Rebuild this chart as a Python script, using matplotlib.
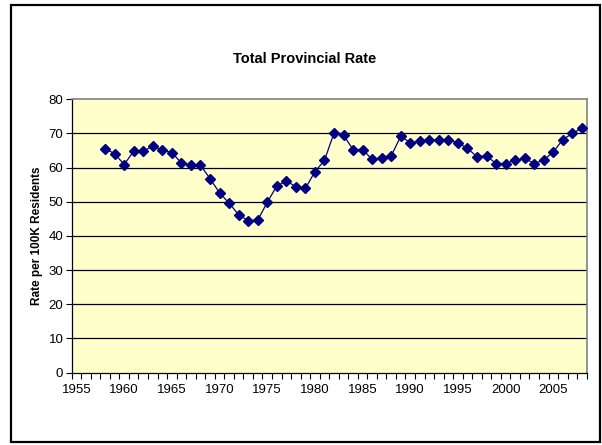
import numpy as np
import matplotlib
matplotlib.use("Agg")
import matplotlib.pyplot as plt
from matplotlib.patches import Rectangle

plt.rcParams['font.family'] = ['Liberation Sans', 'DejaVu Sans']

# data
years = list(range(1958, 2009))
rate = [65.5, 64.1, 60.9, 64.8, 64.8, 66.3, 65.2, 64.4, 61.4, 60.7,
        60.7, 56.8, 52.6, 49.6, 46.2, 44.5, 44.6, 49.8, 54.6, 56.1,
        54.4, 53.9, 58.8, 62.1, 70.1, 69.5, 65.3, 65.3, 62.4, 62.9,
        63.4, 69.2, 67.3, 67.7, 68.2, 68.0, 68.2, 67.3, 65.6, 63.2,
        63.4, 61.2, 61.2, 62.2, 62.7, 61.2, 62.2, 64.6, 68.2, 70.0,
        71.6]
xlabels = [1955, 1960, 1965, 1970, 1975, 1980, 1985, 1990, 1995, 2000, 2005]
yticks = [0, 10, 20, 30, 40, 50, 60, 70, 80]

W, H = 602, 445
fig = plt.figure(figsize=(W / 100, H / 100), dpi=100)
fig.patch.set_facecolor('white')

# outer chart frame
fig.patches.append(Rectangle((10.5 / W, 1 - 441.5 / H), 589 / W, 437 / H,
                             transform=fig.transFigure, fill=False,
                             edgecolor='black', linewidth=1.6))

ax = fig.add_axes([71.7 / W, 1 - 372.5 / H, 515 / W, 273.2 / H])
ax.set_facecolor('#FFFFCC')

for y in yticks[1:-1]:
    ax.axhline(y, color='black', linewidth=0.9, zorder=1)

ax.plot(years, rate, color='#000080', linewidth=0.9, marker='D',
        markersize=5, markerfacecolor='#000080', markeredgecolor='#000080',
        zorder=3)

ax.set_xlim(1954.5, 2008.5)
ax.set_ylim(0, 80)
ax.set_yticks(yticks)
ax.set_xticks(xlabels)
ax.set_xticks(np.arange(1954.5, 2009, 1), minor=True)
ax.tick_params(axis='x', which='major', length=0, pad=8, labelsize=9.5)
ax.tick_params(axis='x', which='minor', length=4, width=0.8, direction='out')
ax.tick_params(axis='y', length=4, width=0.8, direction='out', pad=2,
               labelsize=9.5)

for s in ['top', 'right']:
    ax.spines[s].set_color('#808080')
    ax.spines[s].set_linewidth(1.2)
for s in ['left', 'bottom']:
    ax.spines[s].set_color('black')
    ax.spines[s].set_linewidth(0.9)

ax.set_ylabel('Rate per 100K Residents', fontsize=8.5, fontweight='bold',
              labelpad=4)
fig.text(305 / W, 1 - 59 / H, 'Total Provincial Rate', ha='center',
         va='center', fontsize=10.5, fontweight='bold')

fig.savefig('out.png', dpi=100)
